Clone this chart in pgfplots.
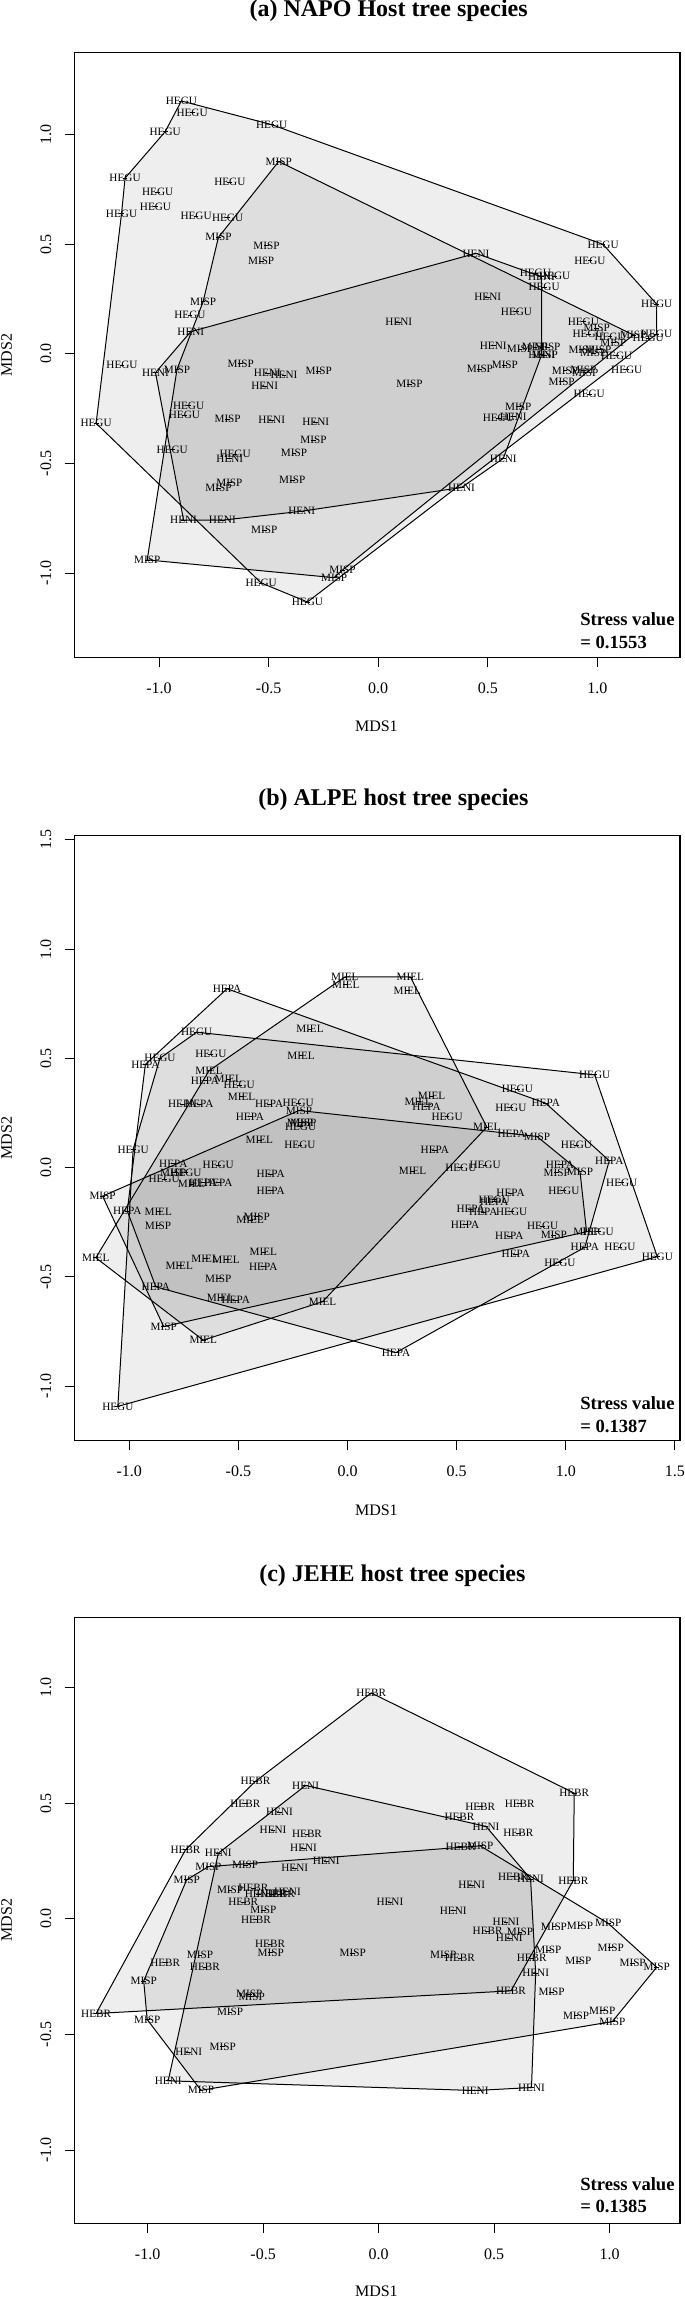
\documentclass[border=0pt]{standalone}
\usepackage{pgfplots}
\pgfplotsset{compat=1.18}
\usepackage{fontspec}
\setmainfont{Liberation Serif}
\newcommand{\lbl}{\fontsize{5.6}{6}\selectfont}
\newcommand{\ttl}{\fontsize{12}{14}\selectfont\bfseries}
\newcommand{\axl}{\fontsize{8}{9.6}\selectfont}
\newcommand{\strs}{\fontsize{9.3}{11}\selectfont\bfseries}
\pgfplotsset{
  nmds/.style={
    scale only axis, anchor=south west, width=302.9pt,
    axis line style={line width=0.6pt},
    tick style={black, line width=0.5pt},
    tick align=outside, major tick length=4.7pt,
    xtick pos=left, ytick pos=left,
    tick label style={font=\axl},
    xticklabel style={anchor=center, yshift=-10.6pt},
    yticklabel style={rotate=90, anchor=center, yshift=9.45pt},
    clip=false,
  },
  hull/.style={draw=black, line width=0.5pt, fill=black, fill opacity=0.067, mark=none},
  lab/.style={black, only marks, mark=-, mark size=1.2pt, mark options={line width=0.35pt},
    nodes near coords={#1}, nodes near coords align={center},
    every node near coord/.append style={font=\lbl, inner sep=0pt, anchor=center}},
}
\begin{document}
\begin{tikzpicture}
\useasboundingbox (0,0) rectangle (342.5pt,1149.5pt);
% ---------------- (a)
\begin{axis}[nmds, at={(37.1pt,820.65pt)}, height=302.7pt,
  xmin=-1.387, xmax=1.377, ymin=-1.385, ymax=1.376,
  xtick={-1,-0.5,0,0.5,1}, xticklabels={-1.0,-0.5,0.0,0.5,1.0},
  ytick={-1,-0.5,0,0.5,1}, yticklabels={-1.0,-0.5,0.0,0.5,1.0}]
\addplot[hull] coordinates {(-0.898,1.154) (-0.486,1.046) (1.026,0.500) (1.271,0.227) (1.270,0.091) (-0.323,-1.131) (-0.534,-1.044) (-1.287,-0.316) (-1.171,0.640) (-1.155,0.802) (-0.972,1.014)} -- cycle;
\addplot[hull] coordinates {(-0.454,0.878) (1.164,0.087) (-0.163,-0.985) (-0.201,-1.020) (-1.054,-0.939) (-0.918,-0.070) (-0.799,0.238) (-0.729,0.532)} -- cycle;
\addplot[hull] coordinates {(0.446,0.459) (0.745,0.352) (0.746,-0.003) (0.571,-0.476) (0.380,-0.609) (-0.349,-0.717) (-0.711,-0.758) (-0.888,-0.758) (-1.016,-0.085) (-0.855,0.102)} -- cycle;
\addplot[lab=HEGU] coordinates {(-0.898,1.154) (-0.849,1.102) (-0.972,1.014) (-0.486,1.046) (-1.155,0.802) (-0.677,0.784) (-1.006,0.739) (-1.016,0.672) (-1.171,0.640) (-0.831,0.630) (-0.687,0.623) (1.026,0.500) (0.966,0.425) (0.717,0.370) (0.805,0.355) (0.757,0.306) (1.271,0.227) (-0.859,0.178) (0.631,0.194) (0.936,0.147) (0.958,0.091) (1.058,0.079) (1.270,0.091) (1.232,0.072) (1.088,-0.008) (1.134,-0.070) (0.963,-0.182) (-1.169,-0.050) (-0.865,-0.236) (-0.884,-0.278) (-1.287,-0.316) (0.548,-0.293) (-0.940,-0.435) (-0.653,-0.456) (-0.534,-1.044) (-0.323,-1.131)};
\addplot[lab=HENI] coordinates {(0.446,0.459) (0.745,0.352) (0.500,0.259) (0.094,0.146) (-0.855,0.102) (0.525,0.038) (0.746,-0.003) (-1.016,-0.085) (-0.506,-0.088) (-0.430,-0.096) (-0.518,-0.146) (-0.486,-0.301) (-0.285,-0.310) (0.616,-0.286) (-0.677,-0.477) (0.571,-0.476) (0.380,-0.609) (-0.349,-0.717) (-0.888,-0.758) (-0.711,-0.758)};
\addplot[lab=MISP] coordinates {(-0.454,0.878) (-0.729,0.532) (-0.510,0.494) (-0.534,0.424) (-0.799,0.238) (0.997,0.117) (1.073,0.053) (1.164,0.087) (0.647,0.023) (0.715,0.031) (0.772,0.031) (0.760,-0.005) (0.928,0.021) (0.981,0.003) (1.004,0.021) (-0.918,-0.070) (-0.627,-0.043) (-0.271,-0.078) (0.143,-0.138) (0.464,-0.068) (0.578,-0.050) (0.852,-0.076) (0.936,-0.073) (0.945,-0.085) (0.837,-0.126) (-0.687,-0.296) (0.639,-0.240) (-0.295,-0.392) (-0.384,-0.453) (-0.392,-0.576) (-0.679,-0.587) (-0.729,-0.612) (-0.520,-0.804) (-1.054,-0.939) (-0.163,-0.985) (-0.201,-1.020)};
\end{axis}
% ---------------- (b)
\begin{axis}[nmds, at={(37.1pt,429.15pt)}, height=302.7pt,
  xmin=-1.252, xmax=1.523, ymin=-1.249, ymax=1.521,
  xtick={-1,-0.5,0,0.5,1,1.5}, xticklabels={-1.0,-0.5,0.0,0.5,1.0,1.5},
  ytick={-1,-0.5,0,0.5,1,1.5}, yticklabels={-1.0,-0.5,0.0,0.5,1.0,1.5}]
\addplot[hull] coordinates {(-0.691,0.620) (1.132,0.425) (1.419,-0.407) (-1.052,-1.092) (-0.982,0.084) (-0.859,0.501)} -- cycle;
\addplot[hull] coordinates {(-0.552,0.819) (0.908,0.295) (1.199,0.032) (1.087,-0.364) (0.222,-0.846) (-0.878,-0.545) (-1.009,-0.198) (-0.926,0.473)} -- cycle;
\addplot[hull] coordinates {(-0.012,0.873) (0.288,0.873) (0.638,0.186) (-0.114,-0.613) (-0.661,-0.789) (-1.153,-0.412) (-0.634,0.444)} -- cycle;
\addplot[hull] coordinates {(-0.222,0.262) (0.868,0.143) (1.065,-0.018) (1.095,-0.293) (-0.842,-0.727) (-1.122,-0.130)} -- cycle;
\addplot[lab=HEGU] coordinates {(-0.691,0.620) (-0.626,0.519) (-0.859,0.501) (-0.496,0.379) (-0.226,0.295) (-0.215,0.188) (-0.218,0.104) (1.132,0.425) (0.778,0.360) (0.748,0.276) (0.456,0.234) (-0.982,0.084) (1.049,0.104) (-0.592,0.012) (-0.740,-0.023) (-0.840,-0.053) (0.519,0.000) (0.630,0.012) (1.256,-0.067) (0.991,-0.105) (0.672,-0.145) (0.752,-0.201) (0.894,-0.267) (1.148,-0.293) (1.248,-0.364) (0.973,-0.433) (1.419,-0.407) (-1.052,-1.092)};
\addplot[lab=HEPA] coordinates {(-0.552,0.819) (-0.926,0.473) (-0.653,0.398) (-0.757,0.292) (-0.679,0.292) (-0.359,0.292) (-0.447,0.233) (0.362,0.279) (0.908,0.295) (0.752,0.157) (0.400,0.081) (1.199,0.032) (-0.798,0.020) (-0.661,-0.069) (-0.592,-0.069) (-0.352,-0.030) (-0.352,-0.105) (0.973,0.015) (0.747,-0.117) (0.672,-0.155) (0.564,-0.190) (0.622,-0.204) (0.538,-0.259) (0.741,-0.313) (-1.009,-0.198) (1.087,-0.364) (0.771,-0.395) (-0.386,-0.453) (-0.878,-0.545) (-0.512,-0.606) (0.222,-0.846)};
\addplot[lab=MIEL] coordinates {(-0.012,0.873) (-0.008,0.839) (0.288,0.873) (0.274,0.811) (-0.172,0.635) (-0.213,0.513) (-0.634,0.444) (-0.546,0.405) (-0.485,0.325) (0.385,0.328) (0.324,0.302) (0.638,0.186) (-0.404,0.127) (-0.714,-0.076) (0.298,-0.015) (-0.867,-0.201) (-0.446,-0.240) (-1.153,-0.412) (-0.771,-0.449) (-0.652,-0.415) (-0.556,-0.420) (-0.386,-0.387) (-0.582,-0.595) (-0.114,-0.613) (-0.661,-0.789)};
\addplot[lab=MISP] coordinates {(-0.222,0.262) (-0.218,0.206) (-0.203,0.206) (0.868,0.143) (-0.798,-0.023) (0.958,-0.023) (1.065,-0.018) (-1.122,-0.130) (-0.868,-0.264) (-0.416,-0.224) (0.945,-0.308) (1.095,-0.293) (-0.592,-0.507) (-0.842,-0.727)};
\end{axis}
% ---------------- (c)
\begin{axis}[nmds, at={(37.1pt,37.85pt)}, height=303pt,
  xmin=-1.318, xmax=1.305, ymin=-1.316, ymax=1.304,
  xtick={-1,-0.5,0,0.5,1}, xticklabels={-1.0,-0.5,0.0,0.5,1.0},
  ytick={-1,-0.5,0,0.5,1}, yticklabels={-1.0,-0.5,0.0,0.5,1.0}]
\addplot[hull] coordinates {(-0.032,0.977) (0.847,0.544) (0.843,0.166) (0.573,-0.311) (-1.223,-0.409) (-0.836,0.299) (-0.533,0.595)} -- cycle;
\addplot[hull] coordinates {(-0.316,0.577) (0.465,0.400) (0.658,0.173) (0.680,-0.235) (0.662,-0.729) (0.418,-0.742) (-0.911,-0.700) (-0.694,0.284)} -- cycle;
\addplot[hull] coordinates {(-0.737,0.226) (0.440,0.316) (0.994,-0.019) (1.204,-0.209) (1.012,-0.444) (-0.769,-0.741) (-1.002,-0.435) (-1.017,-0.268) (-0.831,0.169)} -- cycle;
\addplot[lab=HEBR] coordinates {(-0.032,0.977) (-0.533,0.595) (0.847,0.544) (-0.577,0.498) (0.440,0.486) (0.611,0.499) (0.350,0.440) (0.605,0.371) (-0.310,0.367) (-0.836,0.299) (0.355,0.313) (0.582,0.183) (0.843,0.166) (-0.542,0.133) (-0.463,0.108) (-0.427,0.108) (-0.586,0.072) (-0.531,-0.004) (0.472,-0.052) (-0.470,-0.108) (0.352,-0.170) (-0.924,-0.189) (-0.752,-0.209) (0.663,-0.170) (0.573,-0.311) (-1.223,-0.409)};
\addplot[lab=HENI] coordinates {(-0.316,0.577) (-0.429,0.462) (0.465,0.400) (-0.457,0.385) (-0.325,0.306) (-0.694,0.284) (-0.227,0.250) (-0.363,0.219) (0.658,0.173) (0.403,0.147) (-0.521,0.107) (-0.395,0.118) (0.049,0.072) (0.323,0.036) (0.552,-0.014) (0.566,-0.083) (0.680,-0.235) (-0.822,-0.576) (-0.911,-0.700) (0.418,-0.742) (0.662,-0.729)};
\addplot[lab=MISP] coordinates {(0.440,0.316) (-0.737,0.226) (-0.578,0.233) (-0.831,0.169) (-0.643,0.125) (-0.499,0.039) (0.612,-0.058) (0.759,-0.033) (0.872,-0.029) (0.994,-0.019) (-0.467,-0.146) (-0.112,-0.148) (0.280,-0.156) (-0.773,-0.156) (0.735,-0.134) (1.005,-0.124) (0.865,-0.182) (1.100,-0.192) (1.204,-0.209) (-1.017,-0.268) (-0.560,-0.324) (-0.549,-0.336) (0.749,-0.317) (-1.002,-0.435) (-0.643,-0.402) (0.855,-0.418) (0.968,-0.396) (1.012,-0.444) (-0.675,-0.553) (-0.769,-0.741)};
\end{axis}
% ---------------- titles and labels
\node[font=\ttl, anchor=base] at (194.3pt,1141.15pt) {(a) NAPO Host tree species};
\node[font=\ttl, anchor=base] at (196.7pt,746.65pt) {(b) ALPE host tree species};
\node[font=\ttl, anchor=base] at (196.2pt,358.65pt) {(c) JEHE host tree species};
\node[font=\axl] at (188.2pt,786.3pt) {MDS1};
\node[font=\axl] at (188.2pt,394.5pt) {MDS1};
\node[font=\axl] at (188.2pt,3.9pt) {MDS1};
\node[font=\axl, rotate=90] at (3.3pt,972pt) {MDS2};
\node[font=\axl, rotate=90] at (3.3pt,580.5pt) {MDS2};
\node[font=\axl, rotate=90] at (3.3pt,189.35pt) {MDS2};
\node[font=\strs, anchor=base west, inner sep=0pt] at (290pt,836.5pt) {Stress value};
\node[font=\strs, anchor=base west, inner sep=0pt] at (290pt,825.35pt) {= 0.1553};
\node[font=\strs, anchor=base west, inner sep=0pt] at (290pt,444.5pt) {Stress value};
\node[font=\strs, anchor=base west, inner sep=0pt] at (290pt,433.35pt) {= 0.1387};
\node[font=\strs, anchor=base west, inner sep=0pt] at (290pt,54.15pt) {Stress value};
\node[font=\strs, anchor=base west, inner sep=0pt] at (290pt,43.15pt) {= 0.1385};
\end{tikzpicture}
\end{document}
